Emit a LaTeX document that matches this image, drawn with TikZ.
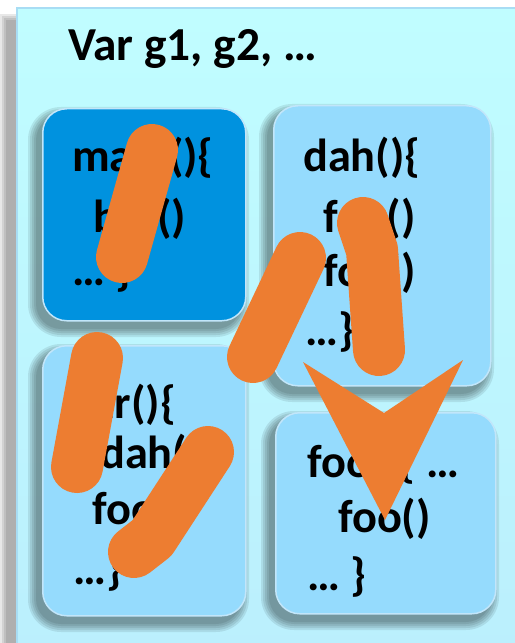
\documentclass[tikz,border=0pt]{standalone}
\usepackage{fontspec}
\setmainfont{Carlito}
\definecolor{panelA}{HTML}{C0FDFF}
\definecolor{panelB}{HTML}{BBEFFD}
\definecolor{paneledge}{HTML}{A8DDF4}
\definecolor{darkbox}{HTML}{0092DF}
\definecolor{lightbox}{HTML}{95DBFD}
\definecolor{boxedge}{HTML}{C2E6FA}
\definecolor{scribble}{HTML}{ED7D31}
\newcommand\softshadow[4]{%
  \foreach \e in {9,7,5,3,1}{%
    \pgfmathsetmacro\rr{24+\e}%
    \fill[black, opacity=0.085, rounded corners=\rr bp]
      ({#1-5-\e},{#2+8-\e}) rectangle ({#1+#3-5+\e},{#2+#4+8+\e});
  }%
}
\tikzset{
  box/.style={draw=boxedge, line width=1.5bp, rounded corners=24bp, inner sep=0pt,
              anchor=north west},
  code/.style={anchor=base west, inner sep=0pt, font=\bfseries\fontsize{46.5}{52}\selectfont},
  stroke/.style={draw=scribble, line width=52bp, line cap=round, line join=round},
}
\begin{document}
\begin{tikzpicture}[x=1bp,y=-1bp]
\useasboundingbox (0,0) rectangle (515,643);
% panel shadow
\foreach \e in {7,5,3,1}{
  \fill[black, opacity=0.09] ({16-9-\e},{7+14-\e}) rectangle (530,660);
}
% panel
\node[draw=paneledge, line width=2bp, top color=panelA, bottom color=panelB,
      minimum width=510bp, minimum height=650bp, inner sep=0pt, anchor=north west]
      (panel) at (16,7) {};
\node[code, font=\bfseries\fontsize{47.5}{52}\selectfont] (title) at (68,61) {Var g1, g2, …};
% shadows
\softshadow{42}{108}{203}{212}
\softshadow{273}{105}{217}{280}
\softshadow{42}{345}{203}{270}
\softshadow{275}{412}{220}{201}
% boxes
\node[box, fill=darkbox, minimum width=203bp, minimum height=212bp] (main) at (42,108) {};
\node[box, fill=lightbox, minimum width=217bp, minimum height=280bp] (dah) at (273,105) {};
\node[box, fill=lightbox, minimum width=203bp, minimum height=270bp] (bar) at (42,345) {};
\node[box, fill=lightbox, minimum width=220bp, minimum height=201bp] (foo) at (275,412) {};
% code text
\node[code] (m1) at (72,172) {main()\{};
\node[code] (m2) at (93,232) {bar()};
\node[code] (m3) at (72,285) {… \}};
\node[code] (d1) at (303,172) {dah()\{};
\node[code] (d2) at (323,232) {foo()};
\node[code] (d3) at (323,286) {foo()};
\node[code] (d4) at (305,345) {…\}};
\node[code] (b1) at (67,418) {bar()\{};
\node[code] (b2) at (100,468) {dah()};
\node[code] (b3) at (92,524) {foo()};
\node[code] (b4) at (73,584) {…\}};
\node[code] (f1) at (307,477) {foo()\{ …};
\node[code] (f2) at (338,532) {foo()};
\node[code] (f3) at (307,590) {… \}};
% orange scribbles
\draw[stroke] (152,150) -- (122,257);
\draw[stroke] (300,258) -- (253,357);
\draw[stroke] (363,223) -- (372,250) -- (379,350);
\draw[stroke] (97,358) -- (77,467);
\draw[stroke] (208,452) -- (152,538) -- (134,552);
\fill[scribble] (303,362) -- (384,413) -- (463,360) -- (385,520) -- cycle;
\end{tikzpicture}
\end{document}
